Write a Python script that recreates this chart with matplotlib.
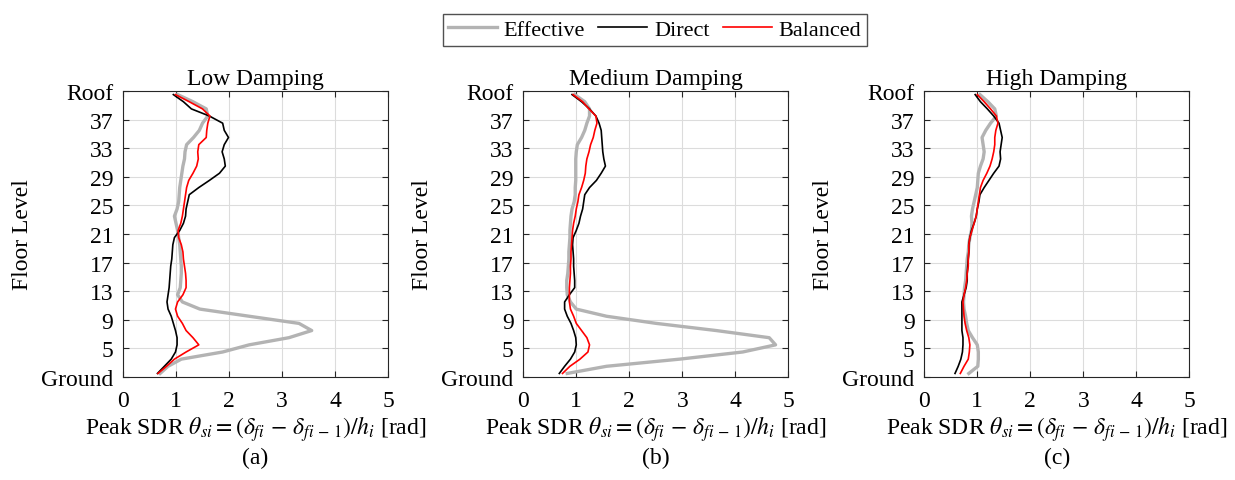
import numpy as np
import matplotlib
matplotlib.use("Agg")
import matplotlib.pyplot as plt

plt.rcParams['font.family'] = ['Liberation Serif', 'DejaVu Serif']
plt.rcParams['mathtext.fontset'] = 'stix'

# story mid-heights (story 1 .. 40), plotted between Ground (1) and Roof (41)
story_y = np.arange(1.5, 41.0, 1.0)

# values listed from story 1 (bottom) to story 40 (top)
low_effective = [0.70, 0.85, 1.10, 1.88, 2.38, 3.13, 3.56, 3.32, 2.38, 1.45,
                 1.12, 1.03, 1.08, 1.09, 1.10, 1.10, 1.09, 1.08, 1.07, 1.05,
                 1.03, 1.00, 0.97, 1.02, 1.05, 1.06, 1.07, 1.09, 1.11, 1.13,
                 1.16, 1.17, 1.20, 1.33, 1.44, 1.50, 1.60, 1.57, 1.32, 1.03]
low_direct = [0.65, 0.78, 0.91, 0.99, 1.02, 1.02, 0.99, 0.95, 0.91, 0.85,
              0.83, 0.85, 0.87, 0.88, 0.89, 0.90, 0.92, 0.93, 0.94, 0.97,
              1.07, 1.14, 1.18, 1.19, 1.22, 1.25, 1.43, 1.63, 1.82, 1.93,
              1.91, 1.87, 1.91, 1.99, 1.91, 1.88, 1.63, 1.29, 1.14, 0.95]
low_balanced = [0.66, 0.82, 0.97, 1.19, 1.43, 1.32, 1.19, 1.12, 1.03, 0.99,
                1.03, 1.13, 1.19, 1.19, 1.18, 1.16, 1.14, 1.13, 1.10, 1.05,
                1.04, 1.09, 1.12, 1.14, 1.16, 1.18, 1.20, 1.24, 1.32, 1.39,
                1.42, 1.41, 1.43, 1.57, 1.58, 1.60, 1.64, 1.50, 1.25, 0.99]

med_effective = [0.83, 1.57, 2.95, 4.14, 4.76, 4.64, 3.64, 2.51, 1.57, 1.00,
                 0.89, 0.83, 0.82, 0.82, 0.84, 0.85, 0.86, 0.86, 0.87, 0.88,
                 0.88, 0.89, 0.90, 0.92, 0.96, 0.98, 0.98, 0.99, 0.99, 0.99,
                 0.99, 1.00, 1.02, 1.10, 1.16, 1.20, 1.25, 1.25, 1.16, 0.97]
med_direct = [0.68, 0.78, 0.89, 0.97, 1.00, 0.99, 0.95, 0.90, 0.83, 0.78,
              0.78, 0.87, 0.97, 0.97, 0.96, 0.95, 0.95, 0.94, 0.93, 0.94,
              1.00, 1.05, 1.08, 1.12, 1.14, 1.16, 1.25, 1.38, 1.47, 1.55,
              1.52, 1.50, 1.49, 1.48, 1.47, 1.43, 1.37, 1.25, 1.10, 0.92]
med_balanced = [0.74, 0.88, 1.07, 1.22, 1.25, 1.20, 1.10, 1.00, 0.95, 0.89,
                0.87, 0.87, 0.87, 0.88, 0.89, 0.89, 0.90, 0.90, 0.91, 0.92,
                0.93, 0.95, 0.98, 1.00, 1.03, 1.05, 1.10, 1.14, 1.17, 1.18,
                1.20, 1.24, 1.27, 1.32, 1.35, 1.39, 1.37, 1.24, 1.12, 0.94]

high_effective = [0.84, 1.01, 1.02, 1.02, 1.00, 0.91, 0.83, 0.80, 0.78, 0.75,
                  0.74, 0.75, 0.76, 0.78, 0.79, 0.80, 0.81, 0.83, 0.84, 0.86,
                  0.89, 0.90, 0.89, 0.91, 0.94, 0.97, 1.00, 1.01, 1.02, 1.06,
                  1.11, 1.13, 1.11, 1.09, 1.16, 1.25, 1.36, 1.33, 1.20, 1.05]
high_direct = [0.58, 0.64, 0.69, 0.72, 0.73, 0.73, 0.71, 0.71, 0.71, 0.71,
               0.71, 0.75, 0.79, 0.81, 0.81, 0.82, 0.83, 0.84, 0.84, 0.86,
               0.89, 0.94, 0.98, 1.00, 1.03, 1.05, 1.13, 1.22, 1.31, 1.41,
               1.44, 1.43, 1.45, 1.47, 1.44, 1.41, 1.31, 1.19, 1.06, 0.96]
high_balanced = [0.68, 0.75, 0.83, 0.85, 0.86, 0.84, 0.80, 0.77, 0.75, 0.74,
                 0.73, 0.75, 0.78, 0.80, 0.81, 0.83, 0.83, 0.84, 0.84, 0.86,
                 0.90, 0.94, 0.98, 1.00, 1.02, 1.04, 1.06, 1.11, 1.18, 1.24,
                 1.28, 1.31, 1.33, 1.33, 1.35, 1.39, 1.36, 1.25, 1.13, 1.00]

titles = ['Low Damping', 'Medium Damping', 'High Damping']
panel_tags = ['(a)', '(b)', '(c)']
series_names = ['Effective', 'Direct', 'Balanced']
floor_ticks = [1, 5, 9, 13, 17, 21, 25, 29, 33, 37, 41]
floor_labels = ['Ground', '5', '9', '13', '17', '21', '25', '29', '33', '37', 'Roof']
x_ticks = [0, 1, 2, 3, 4, 5]

panels = [
    (low_effective, low_direct, low_balanced),
    (med_effective, med_direct, med_balanced),
    (high_effective, high_direct, high_balanced),
]

colors = ['#b3b3b3', 'black', 'red']
widths = [2.4, 1.2, 1.2]

fig = plt.figure(figsize=(12.35, 4.81), dpi=100)
lefts = [0.0996, 0.4237, 0.7484]
fs = 17

lines = []
for i, (data, left) in enumerate(zip(panels, lefts)):
    ax = fig.add_axes([left, 0.2141, 0.2146, 0.5946])
    for vals, c, lw, name in zip(data, colors, widths, series_names):
        ln, = ax.plot(vals, story_y, color=c, lw=lw, label=name)
        if i == 0:
            lines.append(ln)
    ax.set_xlim(0, 5)
    ax.set_ylim(1, 41)
    ax.set_xticks(x_ticks)
    ax.set_yticks(floor_ticks)
    ax.set_yticklabels(floor_labels)
    ax.grid(True, color='#dcdcdc', lw=0.8)
    ax.set_axisbelow(True)
    ax.tick_params(axis='y', direction='in', right=True, labelsize=fs,
                   length=4, color='#262626', pad=7)
    ax.tick_params(axis='x', direction='in', top=True, labelsize=fs,
                   length=4, color='#262626', pad=9)
    for sp in ax.spines.values():
        sp.set_color('#262626')
        sp.set_linewidth(0.8)
    ax.set_title(titles[i], fontsize=fs, pad=5)
    ax.set_ylabel('Floor Level', fontsize=fs, labelpad=6)
    ax.set_xlabel(r'Peak SDR $\theta_{si} = (\delta_{fi}\, - \,\delta_{fi\,-\,\mathit{1}})/h_i$ [rad]',
                  fontsize=fs, labelpad=2)
    ax.text(0.5, -0.28, panel_tags[i], transform=ax.transAxes, ha='center',
            va='center', fontsize=fs)

fig.legend(handles=lines, loc='upper center', bbox_to_anchor=(0.53, 0.969), ncol=3,
           fontsize=16, frameon=True, fancybox=False, edgecolor='#262626',
           handlelength=2.2, handletextpad=0.3, columnspacing=0.6,
           borderpad=0.25, borderaxespad=0)

fig.savefig('out.png', dpi=100)
